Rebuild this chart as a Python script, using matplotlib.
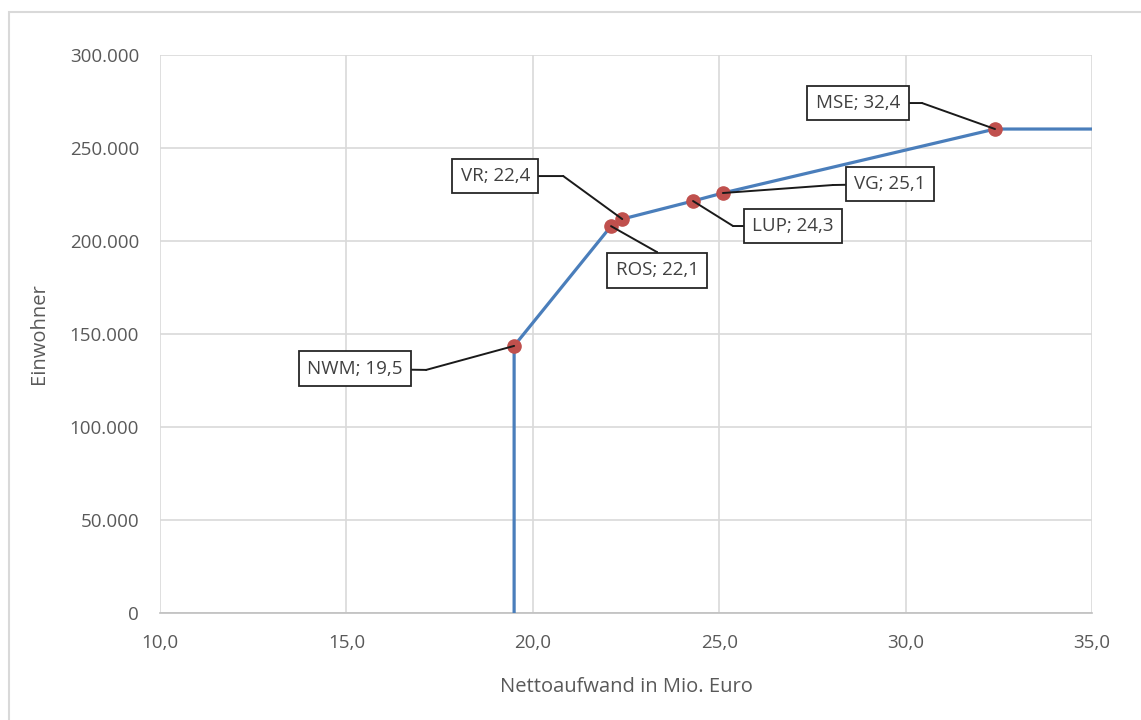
import matplotlib
matplotlib.use('Agg')
import matplotlib.pyplot as plt
from matplotlib.patches import Rectangle
from matplotlib.ticker import FuncFormatter
from matplotlib.transforms import offset_copy

plt.rcParams['font.family'] = ['Open Sans', 'DejaVu Sans']

# Landkreise sortiert nach Nettoaufwand (Mio. Euro) mit kumulierten Einwohnern
kreise = ['NWM', 'ROS', 'VR', 'LUP', 'VG', 'MSE']
aufwand = [19.5, 22.1, 22.4, 24.3, 25.1, 32.4]
einwohner = [143600, 208000, 211800, 221500, 225800, 260200]

# Kurve: senkrecht von 0 bis zum ersten Kreis, danach waagerecht bis zum Rand
kurve_x = [aufwand[0]] + aufwand + [35.0]
kurve_y = [0] + einwohner + [einwohner[-1]]

# Beschriftungen: Lage der Box und Knick der Führungslinie (Pixel relativ zum Punkt)
box_off = [(-159, -23), (46, -44), (-127, 43), (100, -25), (167, 9), (-137, 26)]
knick_off = [(-88, -24), (46, -26), (-59, 43), (40, -25), (110, 8), (-73, 26)]

fig = plt.figure(figsize=(11.41, 7.2), dpi=100)
fig.patches.append(Rectangle((0.008, -0.1), 1.2, 1.083, transform=fig.transFigure,
                             fill=False, edgecolor='#d9d9d9', linewidth=1.5))
ax = fig.add_axes([0.1402, 0.1486, 0.8168, 0.775])

ax.plot(kurve_x, kurve_y, color='#4a7ebb', linewidth=2.3, zorder=3)
ax.plot(aufwand, einwohner, 'o', color='#c0504d', markersize=9.5, zorder=4)

ax.set_xlim(10, 35)
ax.set_ylim(0, 300000)
ax.set_xticks([10, 15, 20, 25, 30, 35])
ax.set_yticks(range(0, 300001, 50000))
ax.xaxis.set_major_formatter(FuncFormatter(lambda v, p: f'{v:.1f}'.replace('.', ',')))
ax.yaxis.set_major_formatter(FuncFormatter(lambda v, p: f'{int(v):,}'.replace(',', '.')))
ax.grid(True, color='#d9d9d9', linewidth=1.2)
ax.set_axisbelow(True)
for s in ['top', 'right', 'left']:
    ax.spines[s].set_visible(False)
ax.spines['bottom'].set_color('#bfbfbf')
ax.spines['bottom'].set_linewidth(1.2)
ax.tick_params(length=0, labelsize=13.5, labelcolor='#595959')
ax.tick_params(axis='x', pad=15)
ax.tick_params(axis='y', pad=15)
ax.set_xlabel('Nettoaufwand in Mio. Euro', fontsize=14.5, color='#595959', labelpad=18)
ax.set_ylabel('Einwohner', fontsize=14.5, color='#595959', labelpad=15)

for k, x, y, b, e in zip(kreise, aufwand, einwohner, box_off, knick_off):
    # Führungslinie vom Punkt zum Knick
    ax.annotate('', xy=(x, y), xytext=e, textcoords='offset pixels',
                arrowprops=dict(arrowstyle='-', color='#1a1a1a', linewidth=1.4,
                                shrinkA=0, shrinkB=0), zorder=5)
    # waagerechtes Stück vom Knick zur Box
    knick = offset_copy(ax.transData, fig=fig, x=e[0], y=e[1], units='dots')
    ax.annotate('', xy=(x, y), xycoords=knick,
                xytext=(b[0] - e[0], b[1] - e[1]), textcoords='offset pixels',
                arrowprops=dict(arrowstyle='-', color='#1a1a1a', linewidth=1.4,
                                shrinkA=0, shrinkB=0), zorder=5)
    ax.annotate(f'{k}; {x:.1f}'.replace('.', ','), xy=(x, y), xytext=b,
                textcoords='offset pixels', ha='center', va='center',
                fontsize=13.5, color='#404040', zorder=6,
                bbox=dict(boxstyle='square,pad=0.45', facecolor='white',
                          edgecolor='#262626', linewidth=1.3))

fig.savefig('out.png', dpi=100)
